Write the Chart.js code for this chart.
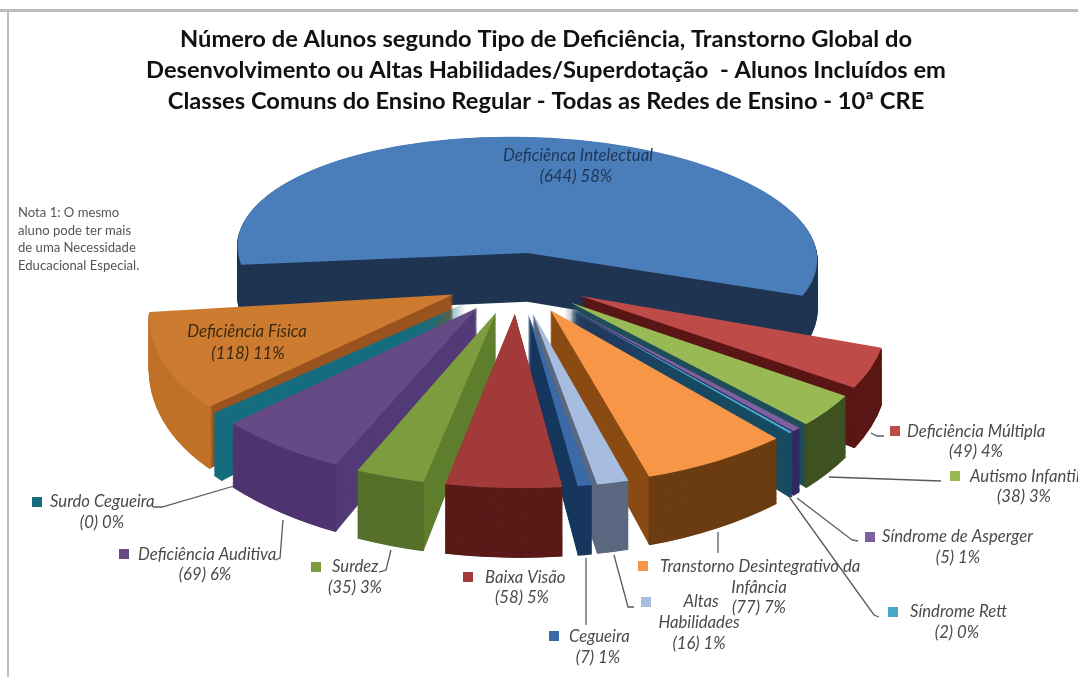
<!DOCTYPE html>
<html><head><meta charset="utf-8">
<style>html,body{margin:0;padding:0;background:#fff;overflow:hidden}canvas{display:block;filter:blur(.45px)}</style>
<script src="https://cdn.jsdelivr.net/npm/chart.js@4"></script>
</head><body><canvas id="c" width="1078" height="677"></canvas>
<script>
const categories=["Deficiência Intelectual","Deficiência Múltipla","Autismo Infantil","Síndrome de Asperger","Síndrome Rett","Transtorno Desintegrativo da Infância","Altas Habilidades","Cegueira","Baixa Visão","Surdez","Deficiência Auditiva","Surdo Cegueira","Deficiência Física"];
const values=[644,49,38,5,2,77,16,7,58,35,69,0,118];
const topColors=["#4A7EBB","#BE4B48","#98B954","#7D60A0","#46AAC5","#F79646","#A7BDE0","#3B6AA8","#A13A38","#7D9C3E","#664A85","#156D7E","#CC7B30"];
const cutColors=["#1F3552","#5A1715","#1F4D5C","#2F2A60","#174B62","#8A4A12","#5B6880","#17375E","#5A1A18","#5F7F2E","#513A75","#156D7E","#9A5420"];
const rimColors=["#1F3552","#5A1715","#3F5220","#2F2A60","#174B62","#6B3C12","#5B6880","#17375E","#5A1A18","#566F2A","#4F3470","#156D7E","#C07328"];
const titleLines=["Número de Alunos segundo Tipo de Deficiência, Transtorno Global do","Desenvolvimento ou Altas Habilidades/Superdotação  - Alunos Incluídos em","Classes Comuns do Ensino Regular - Todas as Redes de Ensino - 10ª CRE"];
const noteLines=["Nota 1: O mesmo","aluno pode ter mais","de uma Necessidade","Educacional Especial."];
const keyedLabels=[
 {key:[895,431],i:1,lines:[["Deficiência Múltipla",907,432,"left"],["(49) 4%",976,452,"center"]],lead:[[871,433],[877,436],[884,436]]},
 {key:[955,476],i:2,lines:[["Autismo Infantil",970,477,"left"],["(38) 3%",1024,497,"center"]],lead:[[829,477],[941,481]]},
 {key:[870,537],i:3,lines:[["Síndrome de Asperger",882,537,"left"],["(5) 1%",958,558,"center"]],lead:[[797,498],[852,540],[858,541]]},
 {key:[893,612],i:4,lines:[["Síndrome Rett",910,612,"left"],["(2) 0%",957,633,"center"]],lead:[[790,498],[874,615],[879,617]]},
 {key:[643,566],i:5,lines:[["Transtorno Desintegrativo da",660,567,"left"],["Infância",759,588,"center"],["(77) 7%",759,608,"center"]],lead:[[718,532],[718,553]]},
 {key:[646,602],i:6,lines:[["Altas",701,602,"center"],["Habilidades",699,623,"center"],["(16) 1%",699,644,"center"]],lead:[[614,555],[628,607],[634,607]]},
 {key:[554,636],i:7,lines:[["Cegueira",569,637,"left"],["(7) 1%",598,658,"center"]],lead:[[586,558],[586,625]]},
 {key:[468,577],i:8,lines:[["Baixa Visão",485,578,"left"],["(58) 5%",522,598,"center"]],lead:[]},
 {key:[316,567],i:9,lines:[["Surdez",332,567,"left"],["(35) 3%",355,588,"center"]],lead:[[391,550],[386,570],[379,572]]},
 {key:[124,554],i:10,lines:[["Deficiência Auditiva",138,555,"left"],["(69) 6%",205,575,"center"]],lead:[[283,520],[280,558],[275,560]]},
 {key:[37,502],i:11,lines:[["Surdo Cegueira",50,502,"left"],["(0) 0%",102,523,"center"]],lead:[[234,486],[162,507],[153,507]]}
];
const sliceLabels=[
 {color:"#1F3552",lines:[["Deficiênca Intelectual",578,156],["(644) 58%",576,177]]},
 {color:"#3A2A10",lines:[["Deficiência Física",247,332],["(118) 11%",248,354]]}
];

// view of the tilted, exploded pie
const view={cx:517,cy:280,k:.465,persp:5.1e-4,radius:295,explode:70,depth:51,skew:.008,wideShrink:.985,zeroSweep:2.2*Math.PI/180};
function project(X,Y,z){
  const s=1/(1-view.persp*Y);
  return [view.cx+(X+view.skew*Y)*s, view.cy+view.k*Y*s+z*Math.pow(s,1.5)];
}
function sliceMatrix(arc,start,end,z){
  const mid=(start+end)/2, half=Math.max(8*Math.PI/180,(end-start)/2);
  const a1=mid-half,a2=mid+half,R=view.radius,E=view.explode;
  const ax=E*Math.cos(mid),ay=E*Math.sin(mid);
  let A=project(ax,ay,z);
  const P1=project(ax+R*Math.cos(a1),ay+R*Math.sin(a1),z);
  const P2=project(ax+R*Math.cos(a2),ay+R*Math.sin(a2),z);
  let xs=1;
  if(half>Math.PI/4){
    // wide slice: the ellipse goes through both corners and the middle of the rim
    const Pm=project(ax+R*Math.cos(mid),ay+R*Math.sin(mid),z),h=Math.cos(half);
    A=[((P1[0]+P2[0])/2-h*Pm[0])/(1-h),((P1[1]+P2[1])/2-h*Pm[1])/(1-h)];
    xs=view.wideShrink;
  }
  const r=arc.outerRadius,ux=r*Math.cos(a1),uy=r*Math.sin(a1),vx=r*Math.cos(a2),vy=r*Math.sin(a2);
  const det=ux*vy-vx*uy;
  const p1x=(P1[0]-A[0])*xs,p1y=P1[1]-A[1],p2x=(P2[0]-A[0])*xs,p2y=P2[1]-A[1];
  const m11=(p1x*vy-p2x*uy)/det,m12=(-p1x*vx+p2x*ux)/det,m21=(p1y*vy-p2y*uy)/det,m22=(-p1y*vx+p2y*ux)/det;
  const e=A[0]-(m11*arc.x+m12*arc.y),f=A[1]-(m21*arc.x+m22*arc.y);
  return [m11,m21,m12,m22,e,f];
}
function paintArc(ctx,arc,start,end,color){
  const copy=Object.create(arc);
  copy.startAngle=start;copy.endAngle=end;copy.circumference=end-start;
  copy.options={backgroundColor:color,borderColor:color,borderWidth:0,offset:0,spacing:0,circular:true,borderAlign:'center',borderRadius:0,angle:undefined};
  copy.draw(ctx);
}
const pie3d={id:'pie3d',
  beforeDraw(chart){
    const c=chart.ctx;c.save();c.fillStyle='#fff';c.fillRect(0,0,1078,677);
    c.fillStyle='#BDBDBD';c.fillRect(0,9,1078,3);c.fillRect(7,9,2,668);c.restore();
  },
  beforeDatasetsDraw(chart){
    const c=chart.ctx,arcs=chart.getDatasetMeta(0).data;
    const list=arcs.map((arc,i)=>{
      const start=arc.startAngle,end=arc.endAngle>start?arc.endAngle:start+view.zeroSweep;
      return {arc,i,start,end,order:Math.sin((start+end)/2)};
    }).sort((a,b)=>a.order-b.order);
    for(const s of list){
      for(let z=view.depth;z>=0;z-=1){
        const m=sliceMatrix(s.arc,s.start,s.end,z);
        c.save();c.transform(...m);
        if(z===0){paintArc(c,s.arc,s.start,s.end,topColors[s.i]);}
        else{
          paintArc(c,s.arc,s.start,s.end,cutColors[s.i]);
          c.beginPath();c.arc(s.arc.x,s.arc.y,s.arc.outerRadius-1,s.start,s.end);
          c.strokeStyle=rimColors[s.i];c.lineWidth=3;c.stroke();
        }
        c.restore();
      }
    }
    return false;
  },
  afterDraw(chart){
    const c=chart.ctx;c.save();
    c.textBaseline='middle';
    c.font='italic 16.7px Lato';c.fillStyle='#4A4A4A';
    for(const l of keyedLabels){
      c.fillStyle=topColors[l.i];c.fillRect(l.key[0]-5,l.key[1]-5,10,10);
      if(l.lead.length){
        c.beginPath();l.lead.forEach((p,n)=>n?c.lineTo(p[0],p[1]):c.moveTo(p[0],p[1]));
        c.strokeStyle='#5A5A5A';c.lineWidth=1.3;c.stroke();
      }
      c.fillStyle='#4A4A4A';
      for(const t of l.lines){c.textAlign=t[3];c.fillText(t[0],t[1],t[2]);}
    }
    c.textAlign='center';
    for(const l of sliceLabels){c.fillStyle=l.color;for(const t of l.lines)c.fillText(t[0],t[1],t[2]);}
    c.textAlign='left';c.font='13.1px Lato';c.fillStyle='#555';
    noteLines.forEach((t,n)=>c.fillText(t,18,213+n*17.6));
    c.restore();
  }
};
new Chart(document.getElementById('c'),{
  type:'pie',
  data:{labels:categories,datasets:[{data:values,backgroundColor:topColors,borderWidth:0}]},
  options:{responsive:false,animation:false,rotation:-97,layout:{padding:{left:14}},
    plugins:{legend:{display:false},tooltip:{enabled:false},
      title:{display:true,fullSize:false,text:titleLines,color:'#111',font:{family:'Lato',weight:'bold',size:23.7,lineHeight:1.31},padding:{top:24,bottom:10}}}},
  plugins:[pie3d]
});
</script></body></html>
